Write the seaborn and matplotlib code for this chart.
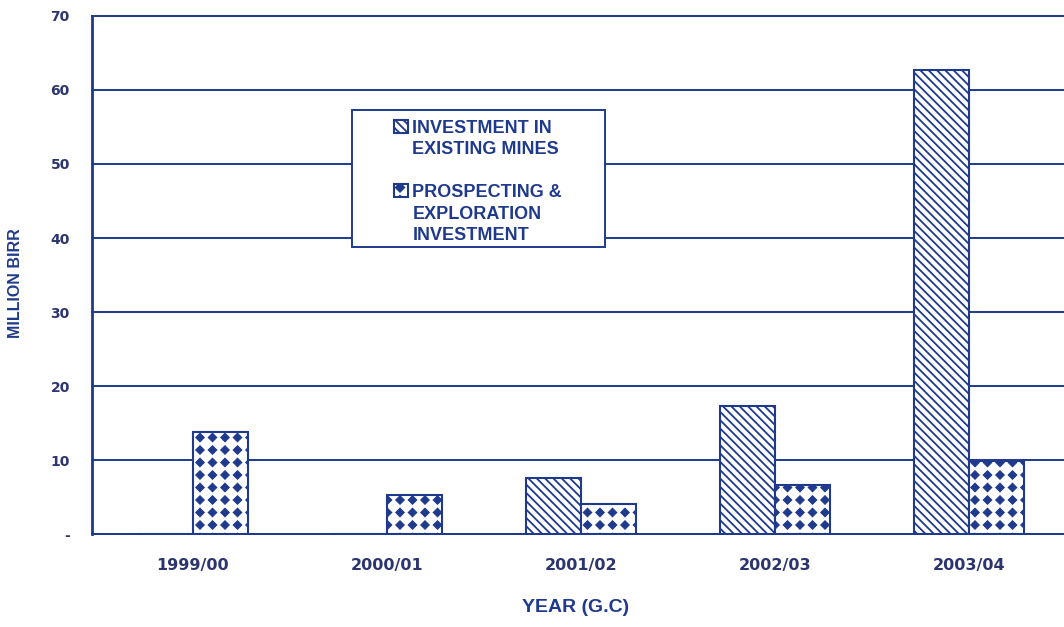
import numpy as np
import pandas as pd
import seaborn as sns
import matplotlib.pyplot as plt
import matplotlib.hatch as mhatch
from matplotlib.path import Path
from matplotlib.patches import Rectangle

years = ["1999/00", "2000/01", "2001/02", "2002/03", "2003/04"]
existing_mines = [0, 0, 7.6, 17.3, 62.7]
prospecting = [13.8, 5.3, 4.1, 6.6, 9.9]
series_names = ["INVESTMENT IN EXISTING MINES", "PROSPECTING & EXPLORATION INVESTMENT"]
legend_lines = [["INVESTMENT IN", "EXISTING MINES", " "],
                ["PROSPECTING &", "EXPLORATION", "INVESTMENT"]]
yticks = [0, 10, 20, 30, 40, 50, 60, 70]
ytick_labels = ["-", "10", "20", "30", "40", "50", "60", "70"]

navy = "#1f3a8c"
text_col = "#2c3570"


# square grid of filled diamonds, used in place of the '.' hatch
class DiamondGrid(mhatch.HatchPatternBase):
    def __init__(self, hatch, density):
        self.num_rows = hatch.count(".") * 8
        self.size = 0.34
        self.num_vertices = (self.num_rows + 1) ** 2 * 5 if self.num_rows else 0

    def set_vertices_and_codes(self, vertices, codes):
        step = 1.0 / self.num_rows
        shape = np.array([[0, 1], [1, 0], [0, -1], [-1, 0], [0, 1]]) * step * self.size
        k = 0
        for r in range(self.num_rows + 1):
            for c in range(self.num_rows + 1):
                vertices[k:k + 5] = shape + [c * step, r * step]
                codes[k:k + 5] = [Path.MOVETO, Path.LINETO, Path.LINETO,
                                  Path.LINETO, Path.CLOSEPOLY]
                k += 5


mhatch._hatch_types = [DiamondGrid if t is mhatch.SmallFilledCircles else t
                       for t in mhatch._hatch_types]

df = pd.DataFrame({
    "year": years * 2,
    "value": existing_mines + prospecting,
    "series": [series_names[0]] * len(years) + [series_names[1]] * len(years),
})

sns.set_style("white")
plt.rcParams["font.family"] = ["Liberation Sans", "DejaVu Sans"]
plt.rcParams["hatch.color"] = navy
plt.rcParams["hatch.linewidth"] = 1.3

fig = plt.figure(figsize=(10.64, 6.27), dpi=100)
ax = fig.add_axes([0.0865, 0.1483, 0.9135, 0.8262])

sns.barplot(data=df, x="year", y="value", hue="series", order=years,
            hue_order=series_names, palette=["white", "white"], width=0.57,
            edgecolor=navy, linewidth=1.5, saturation=1, ax=ax, legend=False)

hatches = ["\\\\\\\\", "."]
hatch_lw = [1.3, 0.8]
for cont, h, hlw in zip(ax.containers, hatches, hatch_lw):
    for bar in cont:
        bar.set_hatch(h)
        if hasattr(bar, "set_hatch_linewidth"):
            bar.set_hatch_linewidth(hlw)
        bar.set_zorder(3)

ax.set_ylim(0, 70)
ax.set_xlim(-0.52, 4.49)
ax.set_yticks(yticks)
ax.set_yticklabels(ytick_labels)
ax.yaxis.grid(True, color=navy, linewidth=1.4, zorder=0)
for gl in ax.yaxis.get_gridlines():
    gl.set_clip_on(False)
ax.set_axisbelow(True)

for side in ["top", "right"]:
    ax.spines[side].set_visible(False)
ax.spines["left"].set_color(navy)
ax.spines["left"].set_linewidth(2)
ax.spines["bottom"].set_color(navy)
ax.spines["bottom"].set_linewidth(1.4)

ax.set_xticks([0.5, 1.5, 2.5, 3.5], minor=True)
ax.tick_params(axis="x", which="major", length=0, pad=17)
ax.tick_params(axis="x", which="minor", length=5, color=navy, width=1.4, direction="out")
ax.tick_params(axis="y", length=8, color=navy, width=1.4, direction="out", pad=8)
for lab in ax.get_xticklabels():
    lab.set_fontfamily("DejaVu Sans")
    lab.set_fontweight("bold")
    lab.set_fontsize(11.5)
    lab.set_color(text_col)
for lab in ax.get_yticklabels():
    lab.set_fontfamily("DejaVu Sans")
    lab.set_fontweight("bold")
    lab.set_fontsize(10)
    lab.set_color(text_col)

ax.set_xlabel("YEAR (G.C)", fontsize=14, fontweight="bold", color=navy)
ax.xaxis.set_label_coords(0.497, -0.125)
ax.set_ylabel("MILLION BIRR", fontsize=11.5, fontweight="bold", color=navy)
ax.yaxis.set_label_coords(-0.071, 0.485)

# legend frame drawn separately so the padding matches the original box
ax.add_patch(Rectangle((0.2675, 0.554), 0.2603, 0.2645, transform=ax.transAxes,
                       facecolor="white", edgecolor=navy, linewidth=1.4,
                       zorder=4, clip_on=False))

# one legend row per text line so each swatch sits on the first line
blank = Rectangle((0, 0), 1, 1, fill=False, edgecolor="none", linewidth=0)
leg_handles, leg_labels = [], []
for cont, lines in zip(ax.containers, legend_lines):
    for i, line in enumerate(lines):
        leg_handles.append(cont[3] if i == 0 else blank)
        leg_labels.append(line)
leg = ax.legend(leg_handles, leg_labels, loc="upper left",
                bbox_to_anchor=(0.311, 0.80), frameon=False,
                handlelength=0.75, handleheight=0.75, borderaxespad=0,
                handletextpad=0.25, borderpad=0, labelspacing=0.25,
                prop={"weight": "bold", "size": 13})
leg.set_zorder(5)
for t in leg.get_texts():
    t.set_color(navy)

plt.savefig("out.png", dpi=100)
